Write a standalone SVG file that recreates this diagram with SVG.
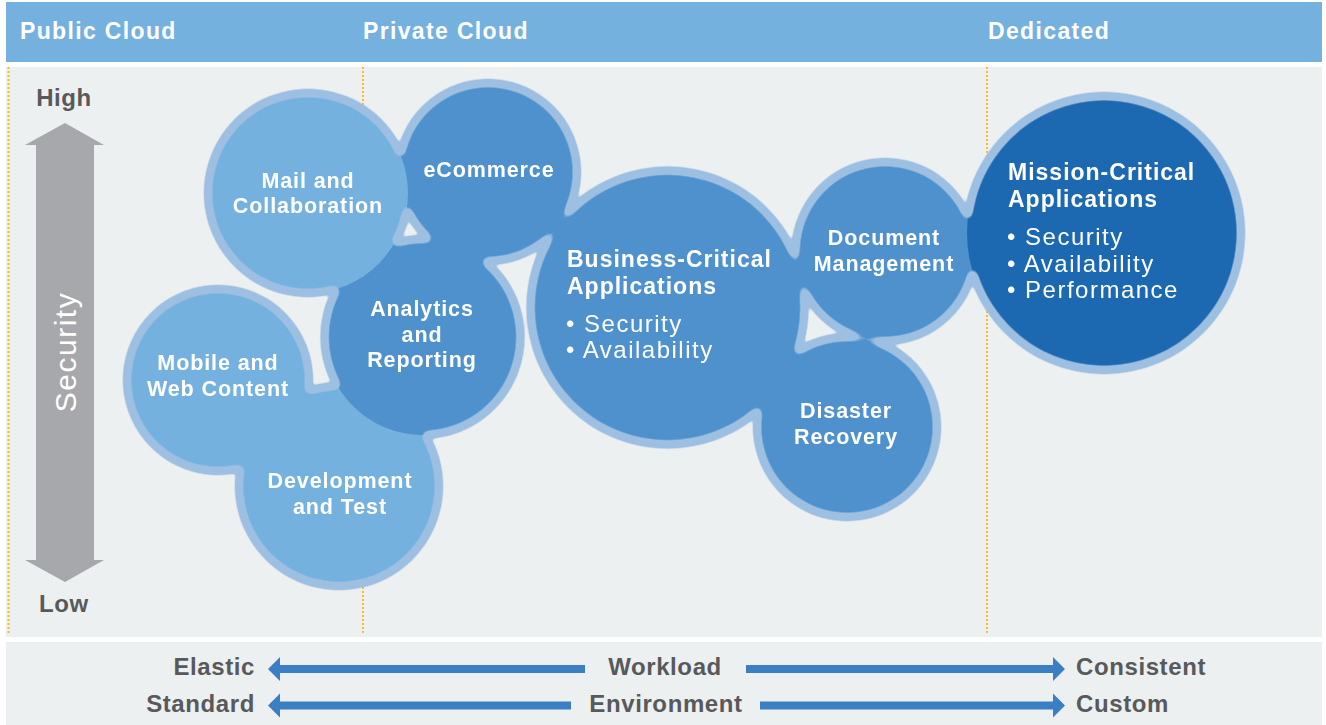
<svg xmlns="http://www.w3.org/2000/svg" width="1326" height="725" viewBox="0 0 1326 725">
<defs>
<style>
text{font-family:"Liberation Sans",Arial,sans-serif}
.hdr{font-weight:bold;font-size:23px;fill:#ffffff;letter-spacing:1.35px}
.gray{font-weight:bold;font-size:24px;fill:#58595b;letter-spacing:0.6px}
.lbl{font-weight:bold;font-size:21.5px;fill:#ffffff;letter-spacing:0.9px;text-anchor:middle}
.head{font-weight:bold;font-size:23px;fill:#ffffff;letter-spacing:1px}
.bul{font-weight:normal;font-size:24px;fill:#ffffff;letter-spacing:1.5px}
.side{font-weight:normal;font-size:30px;fill:#ffffff;letter-spacing:1.5px;text-anchor:middle}
.dot{stroke:#f5c01c;stroke-width:2;stroke-dasharray:2 2;fill:none}
.light{fill:#74b1df}
.med{fill:#4e91cc}
.dark{fill:#1c68b1}
.flow{fill:#3a7ec4}
</style>
<filter id="blobline" filterUnits="userSpaceOnUse" x="0" y="0" width="1326" height="725" color-interpolation-filters="sRGB">
<feGaussianBlur in="SourceAlpha" stdDeviation="3" result="b"/>
<feComponentTransfer in="b" result="outer"><feFuncA type="linear" slope="12" intercept="-0.6"/></feComponentTransfer>
<feFlood flood-color="#9dbfe1" result="fc"/>
<feComposite in="fc" in2="outer" operator="in" result="ring"/>
<feComponentTransfer in="b" result="inner"><feFuncA type="linear" slope="12" intercept="-10.4"/></feComponentTransfer>
<feComposite in="SourceGraphic" in2="inner" operator="in" result="core"/>
<feMerge><feMergeNode in="ring"/><feMergeNode in="core"/></feMerge>
</filter>
</defs>

<rect x="0" y="0" width="1326" height="725" fill="#ffffff"/>

<g id="header">
<rect x="6" y="2" width="1316" height="60" fill="#74b1df"/>
<text class="hdr" x="20" y="39">Public Cloud</text>
<text class="hdr" x="363" y="39">Private Cloud</text>
<text class="hdr" x="988" y="39">Dedicated</text>
</g>

<g id="panels">
<rect x="6" y="67" width="1316" height="570" fill="#edf0f1"/>
<rect x="6" y="642" width="1316" height="83" fill="#edf0f1"/>
<line class="dot" x1="8.5" y1="67" x2="8.5" y2="634"/>
<line class="dot" x1="363" y1="67" x2="363" y2="634"/>
<line class="dot" x1="987" y1="67" x2="987" y2="634"/>
</g>

<g id="security-axis">
<polygon points="65,123 104,145 94,145 94,560 104,560 65,582 25,560 36,560 36,145 25,145" fill="#a7a8ab"/>
<text class="gray" x="64" y="106" text-anchor="middle">High</text>
<text class="gray" x="64" y="612" text-anchor="middle">Low</text>
<text class="side" transform="translate(76,352) rotate(-90)">Security</text>
</g>

<g id="bubbles" filter="url(#blobline)">
<g id="node-mobile">
<circle class="light" cx="218" cy="380" r="91"/>
<text class="lbl" x="218" y="370">Mobile and</text>
<text class="lbl" x="218" y="396">Web Content</text>
</g>
<g id="node-development">
<circle class="light" cx="339" cy="486" r="100"/>
<text class="lbl" x="340" y="488">Development</text>
<text class="lbl" x="340" y="514">and Test</text>
</g>
<g id="node-ecommerce">
<circle class="med" cx="488" cy="172" r="89"/>
<text class="lbl" x="489" y="177">eCommerce</text>
</g>
<g id="node-analytics">
<circle class="med" cx="422.5" cy="337" r="98"/>
<text class="lbl" x="422" y="316">Analytics</text>
<text class="lbl" x="422" y="342">and</text>
<text class="lbl" x="422" y="367">Reporting</text>
</g>
<g id="node-business">
<circle class="med" cx="667.5" cy="307.5" r="137"/>
<text class="head" x="567" y="267">Business-Critical</text>
<text class="head" x="567" y="294">Applications</text>
<text class="bul" x="566" y="332">• Security</text>
<text class="bul" x="566" y="358">• Availability</text>
</g>
<g id="node-document">
<circle class="med" cx="885" cy="251.5" r="89.5"/>
<text class="lbl" x="884" y="245">Document</text>
<text class="lbl" x="884" y="271">Management</text>
</g>
<g id="node-disaster">
<circle class="med" cx="847" cy="427" r="90"/>
<text class="lbl" x="846" y="418">Disaster</text>
<text class="lbl" x="846" y="444">Recovery</text>
</g>
<g id="node-mail">
<circle class="light" cx="308" cy="193" r="100"/>
<text class="lbl" x="308" y="188">Mail and</text>
<text class="lbl" x="308" y="213">Collaboration</text>
</g>
<g id="node-mission">
<circle class="dark" cx="1104" cy="233" r="137"/>
<text class="head" x="1008" y="180">Mission-Critical</text>
<text class="head" x="1008" y="207">Applications</text>
<text class="bul" x="1007" y="245">• Security</text>
<text class="bul" x="1007" y="272">• Availability</text>
<text class="bul" x="1007" y="298">• Performance</text>
</g>
</g>

<g id="connectors">
<polygon class="flow" points="268,669 280,657 280,665 585,665 585,673 280,673 280,681"/>
<polygon class="flow" points="1065,669 1053,657 1053,665 746,665 746,673 1053,673 1053,681"/>
<polygon class="flow" points="268,705.5 280,693.5 280,701.5 571,701.5 571,709.5 280,709.5 280,717.5"/>
<polygon class="flow" points="1065,705.5 1053,693.5 1053,701.5 760,701.5 760,709.5 1053,709.5 1053,717.5"/>
</g>

<g id="axis-labels">
<text class="gray" x="255" y="675" text-anchor="end">Elastic</text>
<text class="gray" x="665" y="675" text-anchor="middle">Workload</text>
<text class="gray" x="1076" y="675">Consistent</text>
<text class="gray" x="255" y="712" text-anchor="end">Standard</text>
<text class="gray" x="666" y="712" text-anchor="middle">Environment</text>
<text class="gray" x="1076" y="712">Custom</text>
</g>
</svg>
